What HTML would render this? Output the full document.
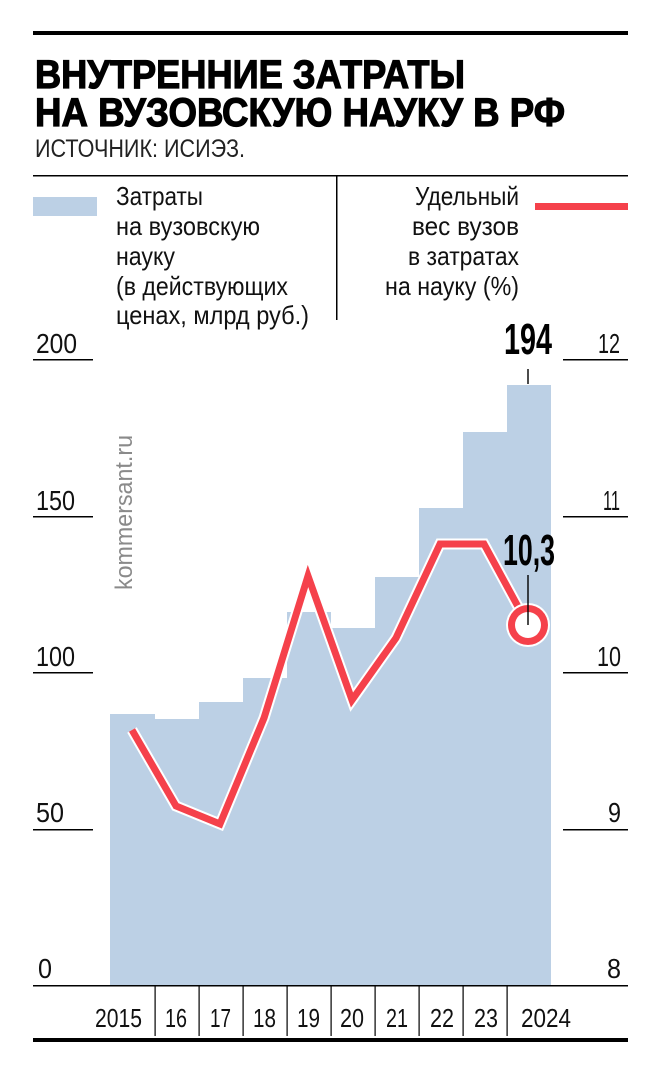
<!DOCTYPE html>
<html><head><meta charset="utf-8"><style>
html,body{margin:0;padding:0;background:#fff;}
svg{display:block;}
text{font-family:"Liberation Sans",sans-serif;}
</style></head><body>
<svg width="660" height="1074" viewBox="0 0 660 1074" xmlns="http://www.w3.org/2000/svg">
<rect x="33" y="31" width="595" height="4" fill="#000"/>
<text x="35" y="88" font-weight="bold" font-size="40" stroke="#000" stroke-width="1.2" textLength="430" lengthAdjust="spacingAndGlyphs">ВНУТРЕННИЕ ЗАТРАТЫ</text>
<text x="35" y="126" font-weight="bold" font-size="40" stroke="#000" stroke-width="1.2" textLength="530" lengthAdjust="spacingAndGlyphs">НА ВУЗОВСКУЮ НАУКУ В РФ</text>
<text x="35" y="157" font-size="25" fill="#222" textLength="210" lengthAdjust="spacingAndGlyphs">ИСТОЧНИК: ИСИЭЗ.</text>
<rect x="33" y="175" width="595" height="1.5" fill="#000"/>
<rect x="336" y="176" width="1.5" height="144" fill="#000"/>
<rect x="33" y="197" width="64" height="19" fill="#bcd0e5"/>
<g font-size="26" fill="#111" lengthAdjust="spacingAndGlyphs">
<text x="116" y="205" textLength="87" lengthAdjust="spacingAndGlyphs">Затраты</text>
<text x="116" y="235" textLength="144" lengthAdjust="spacingAndGlyphs">на вузовскую</text>
<text x="116" y="265" textLength="59" lengthAdjust="spacingAndGlyphs">науку</text>
<text x="116" y="295" textLength="172" lengthAdjust="spacingAndGlyphs">(в действующих</text>
<text x="116" y="324" textLength="193" lengthAdjust="spacingAndGlyphs">ценах, млрд руб.)</text>
<text x="415" y="205" textLength="104" lengthAdjust="spacingAndGlyphs">Удельный</text>
<text x="412" y="235" textLength="107" lengthAdjust="spacingAndGlyphs">вес вузов</text>
<text x="408" y="265" textLength="111" lengthAdjust="spacingAndGlyphs">в затратах</text>
<text x="385" y="295" textLength="134" lengthAdjust="spacingAndGlyphs">на науку (%)</text>
</g>
<rect x="535" y="203" width="93" height="7" fill="#f5414b"/>
<g fill="#bcd0e5">
<rect x="110" y="714" width="45" height="272"/>
<rect x="155" y="719" width="44" height="267"/>
<rect x="199" y="702" width="44" height="284"/>
<rect x="243" y="678" width="44" height="308"/>
<rect x="287" y="612" width="44" height="374"/>
<rect x="331" y="628" width="44" height="358"/>
<rect x="375" y="577" width="44" height="409"/>
<rect x="419" y="508" width="44" height="478"/>
<rect x="463" y="432" width="44" height="554"/>
<rect x="507" y="385" width="44" height="601"/>
</g>
<g fill="#000">
<rect x="33" y="359" width="60" height="1.5"/>
<rect x="33" y="516" width="60" height="1.5"/>
<rect x="33" y="672" width="60" height="1.5"/>
<rect x="33" y="829" width="60" height="1.5"/>
<rect x="563" y="359" width="65" height="1.5"/>
<rect x="563" y="516" width="65" height="1.5"/>
<rect x="563" y="672" width="65" height="1.5"/>
<rect x="563" y="829" width="65" height="1.5"/>
<rect x="33" y="985" width="595" height="1.5"/>
<rect x="33" y="1038" width="595" height="4"/>
</g>
<g font-size="28" fill="#111">
<text x="36" y="353" textLength="41" lengthAdjust="spacingAndGlyphs">200</text>
<text x="36" y="510" textLength="39" lengthAdjust="spacingAndGlyphs">150</text>
<text x="36" y="666" textLength="39" lengthAdjust="spacingAndGlyphs">100</text>
<text x="36" y="822" textLength="28" lengthAdjust="spacingAndGlyphs">50</text>
<text x="38" y="978" textLength="14" lengthAdjust="spacingAndGlyphs">0</text>
<text x="598" y="353" textLength="22" lengthAdjust="spacingAndGlyphs">12</text>
<text x="603" y="510" textLength="17" lengthAdjust="spacingAndGlyphs">11</text>
<text x="597" y="666" textLength="24" lengthAdjust="spacingAndGlyphs">10</text>
<text x="608" y="822" textLength="13" lengthAdjust="spacingAndGlyphs">9</text>
<text x="607" y="978" textLength="14" lengthAdjust="spacingAndGlyphs">8</text>
</g>
<text transform="translate(132,590) rotate(-90)" font-size="24" fill="#8a8a8a" textLength="155" lengthAdjust="spacingAndGlyphs">kommersant.ru</text>
<g fill="#000">
<rect x="154.5" y="986" width="1.2" height="50"/>
<rect x="198.5" y="986" width="1.2" height="50"/>
<rect x="242.5" y="986" width="1.2" height="50"/>
<rect x="286.5" y="986" width="1.2" height="50"/>
<rect x="330.5" y="986" width="1.2" height="50"/>
<rect x="374.5" y="986" width="1.2" height="50"/>
<rect x="418.5" y="986" width="1.2" height="50"/>
<rect x="462.5" y="986" width="1.2" height="50"/>
<rect x="506.5" y="986" width="1.2" height="50"/>
</g>
<g font-size="26" fill="#111">
<text x="95" y="1027" textLength="47" lengthAdjust="spacingAndGlyphs">2015</text>
<text x="165" y="1027" textLength="22" lengthAdjust="spacingAndGlyphs">16</text>
<text x="210" y="1027" textLength="21" lengthAdjust="spacingAndGlyphs">17</text>
<text x="253" y="1027" textLength="23" lengthAdjust="spacingAndGlyphs">18</text>
<text x="297" y="1027" textLength="23" lengthAdjust="spacingAndGlyphs">19</text>
<text x="340" y="1027" textLength="24" lengthAdjust="spacingAndGlyphs">20</text>
<text x="386" y="1027" textLength="22" lengthAdjust="spacingAndGlyphs">21</text>
<text x="430" y="1027" textLength="24" lengthAdjust="spacingAndGlyphs">22</text>
<text x="474" y="1027" textLength="24" lengthAdjust="spacingAndGlyphs">23</text>
<text x="521" y="1027" textLength="50" lengthAdjust="spacingAndGlyphs">2024</text>
</g>
<polyline points="132,730 176,806 220,824 264,718 308,576 352,700 396,638 440,544 484,544 528,625" fill="none" stroke="#fff" stroke-width="11" stroke-linejoin="miter"/>
<polyline points="132,730 176,806 220,824 264,718 308,576 352,700 396,638 440,544 484,544 528,625" fill="none" stroke="#f5414b" stroke-width="7" stroke-linejoin="miter"/>
<circle cx="528" cy="625" r="22" fill="#fff"/>
<circle cx="528" cy="625" r="20" fill="#f5414b"/>
<circle cx="528" cy="625" r="13" fill="#fff"/>
<rect x="527.3" y="575" width="1.4" height="50" fill="#000"/>
<rect x="527.3" y="369" width="1.4" height="15" fill="#000"/>
<text x="528" y="354" text-anchor="middle" font-size="44" font-weight="bold" textLength="48" lengthAdjust="spacingAndGlyphs">194</text>
<text x="529" y="565" text-anchor="middle" font-size="44" font-weight="bold" textLength="52" lengthAdjust="spacingAndGlyphs">10,3</text>
</svg>
</body></html>
